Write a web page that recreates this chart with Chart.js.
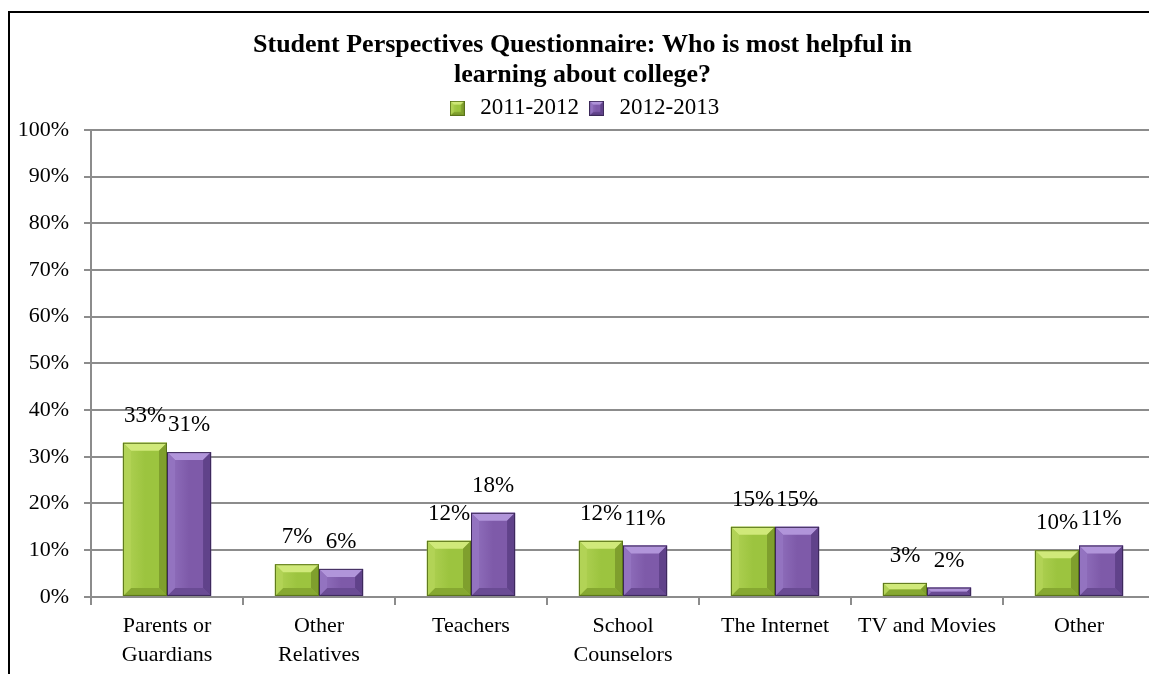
<!DOCTYPE html>
<html>
<head>
<meta charset="utf-8">
<script src="https://cdn.jsdelivr.net/npm/chart.js@4/dist/chart.umd.min.js"></script>
<style>
    html, body { margin: 0; padding: 0; background: #fff; overflow: hidden; }
    body { width: 1149px; height: 674px; position: relative; }
    #frame {
        position: absolute; left: 8px; top: 11px;
        width: 1160px; height: 680px;
        border-left: 2px solid #000; border-top: 2px solid #000;
        box-sizing: border-box;
    }
    #wrap { position: absolute; left: 10px; top: 13px; width: 1150px; height: 664px; }
</style>
</head>
<body>
<div id="frame"></div>
<div id="wrap"><canvas id="chart"></canvas></div>
<script>
const categories = [
    ["Parents or", "Guardians"],
    ["Other", "Relatives"],
    "Teachers",
    ["School", "Counselors"],
    "The Internet",
    "TV and Movies",
    "Other"
];
const seriesNames = ["2011-2012", "2012-2013"];
const values2011 = [33, 7, 12, 12, 15, 3, 10];
const values2012 = [31, 6, 18, 11, 15, 2, 11];
const yTicks = [0, 10, 20, 30, 40, 50, 60, 70, 80, 90, 100];

const SERIF = "'Liberation Serif', 'DejaVu Serif', serif";

// facet shades for the bevelled bars
const palette = [
    { face: '#9cc43f', top: '#d0e97a', left: '#b2d356', right: '#7f9f2d', bottom: '#86a831', edge: '#5a7419' },
    { face: '#7e5aa9', top: '#b195da', left: '#9373c0', right: '#60428a', bottom: '#6a4b94', edge: '#3b2858' }
];

function drawBevel(ctx, l, t, r, bot, c) {
    const w = r - l, h = bot - t;
    const b = Math.max(1, Math.min(8, h / 2, w / 4));
    const poly = (pts, fill) => {
        ctx.beginPath();
        ctx.moveTo(pts[0][0], pts[0][1]);
        for (let i = 1; i < pts.length; i++) ctx.lineTo(pts[i][0], pts[i][1]);
        ctx.closePath();
        ctx.fillStyle = fill;
        ctx.fill();
    };
    const g = ctx.createLinearGradient(l, 0, r, 0);
    g.addColorStop(0, c.left);
    g.addColorStop(0.5, c.face);
    g.addColorStop(1, c.face);
    ctx.fillStyle = g;
    ctx.fillRect(l, t, w, h);
    poly([[l, t], [r, t], [r - b, t + b], [l + b, t + b]], c.top);
    poly([[l, bot], [r, bot], [r - b, bot - b], [l + b, bot - b]], c.bottom);
    poly([[l, t], [l + b, t + b], [l + b, bot - b], [l, bot]], c.left);
    poly([[r, t], [r - b, t + b], [r - b, bot - b], [r, bot]], c.right);
    ctx.strokeStyle = c.edge;
    ctx.lineWidth = 1;
    ctx.strokeRect(l + 0.5, t + 0.5, w - 1, h - 1);
}

function legendSwatch(c) {
    const cv = document.createElement('canvas');
    cv.width = 15; cv.height = 15;
    drawBevel(cv.getContext('2d'), 0, 0, 15, 15, Object.assign({}, c, { bottom: c.right }));
    return cv;
}

const bevelBars = {
    id: 'bevelBars',
    afterDatasetsDraw(chart) {
        const ctx = chart.ctx;
        ctx.save();
        chart.data.datasets.forEach((ds, di) => {
            chart.getDatasetMeta(di).data.forEach(bar => {
                const p = bar.getProps(['x', 'y', 'base', 'width'], true);
                drawBevel(ctx, p.x - p.width / 2, p.y, p.x + p.width / 2, p.base, palette[di]);
            });
        });
        ctx.restore();
    }
};

const valueLabels = {
    id: 'valueLabels',
    afterDatasetsDraw(chart) {
        const ctx = chart.ctx;
        ctx.save();
        ctx.font = '23px ' + SERIF;
        ctx.fillStyle = '#000';
        ctx.textAlign = 'center';
        ctx.textBaseline = 'middle';
        chart.data.datasets.forEach((ds, di) => {
            chart.getDatasetMeta(di).data.forEach((bar, i) => {
                ctx.fillText(ds.data[i] + '%', bar.x, bar.y - 27);
            });
        });
        ctx.restore();
    }
};

new Chart(document.getElementById('chart'), {
    type: 'bar',
    data: {
        labels: categories,
        datasets: [
            { label: seriesNames[0], data: values2011, backgroundColor: palette[0].face },
            { label: seriesNames[1], data: values2012, backgroundColor: palette[1].face }
        ]
    },
    options: {
        responsive: true,
        maintainAspectRatio: false,
        animation: false,
        events: [],
        categoryPercentage: 0.58,
        barPercentage: 1.0,
        layout: { padding: { top: 3, right: 5, left: 0, bottom: 0 } },
        plugins: {
            title: {
                display: true,
                text: ["Student Perspectives Questionnaire: Who is most helpful in", "learning about college?"],
                color: '#000',
                font: { family: SERIF, size: 26, weight: 'bold', lineHeight: 1.15 },
                padding: { top: 14, bottom: 1 }
            },
            legend: {
                display: true,
                position: 'top',
                labels: {
                    color: '#000',
                    font: { family: SERIF, size: 23 },
                    usePointStyle: true,
                    padding: 6,
                    generateLabels(chart) {
                        return chart.data.datasets.map((ds, i) => ({
                            text: ds.label,
                            pointStyle: legendSwatch(palette[i]),
                            datasetIndex: i,
                            fontColor: '#000',
                            lineWidth: 0
                        }));
                    }
                }
            },
            tooltip: { enabled: false }
        },
        scales: {
            x: {
                grid: {
                    offset: true,
                    drawOnChartArea: false,
                    drawTicks: true,
                    tickLength: 8,
                    color: '#8c8c8c',
                    lineWidth: 2
                },
                border: { color: '#8c8c8c', width: 2 },
                ticks: {
                    color: '#000',
                    font: { family: SERIF, size: 22, lineHeight: 1.32 },
                    padding: 7,
                    maxRotation: 0,
                    autoSkip: false
                }
            },
            y: {
                min: 0,
                max: 100,
                afterFit(scale) { scale.width = 81; },
                afterBuildTicks(scale) { scale.ticks = yTicks.map(v => ({ value: v })); },
                grid: { color: '#8c8c8c', lineWidth: 2, tickLength: 7 },
                border: { color: '#8c8c8c', width: 2 },
                ticks: {
                    color: '#000',
                    font: { family: SERIF, size: 22 },
                    padding: 15,
                    callback: v => v + '%'
                }
            }
        }
    },
    plugins: [bevelBars, valueLabels]
});
</script>
</body>
</html>
